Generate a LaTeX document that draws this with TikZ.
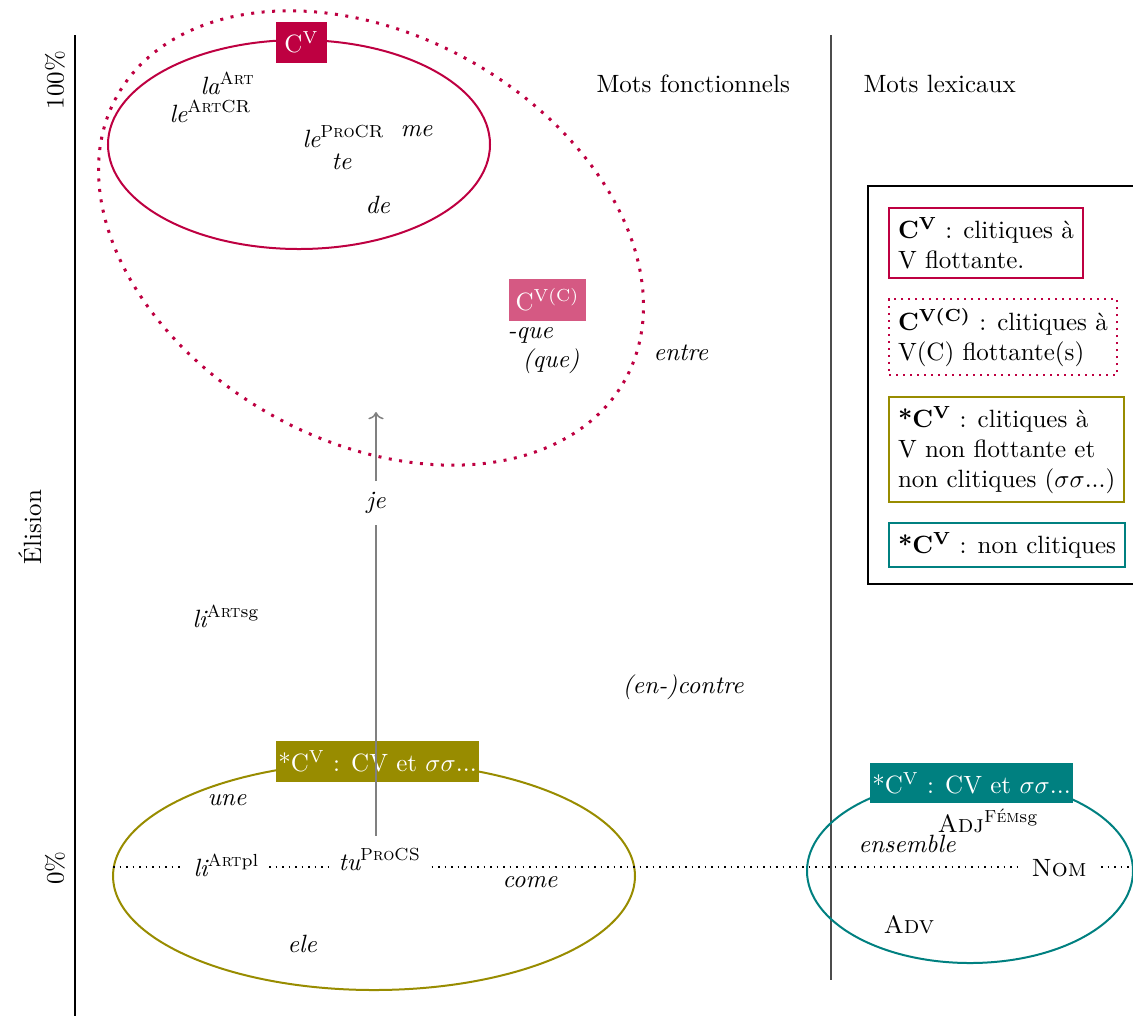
\documentclass[tikz,border=0pt]{standalone}
\usetikzlibrary{arrows.meta}
\definecolor{crim}{RGB}{190,0,65}
\definecolor{olv}{RGB}{152,140,0}
\definecolor{tl}{RGB}{0,128,128}
\newcommand\gls[1]{\textsuperscript{\normalfont #1}}
\begin{document}
\begin{tikzpicture}[x=0.4pt,y=-0.4pt,
  wd/.style={inner sep=0pt, anchor=base west, font=\itshape},
  rmw/.style={inner sep=0pt, anchor=base west},
  onl/.style={fill=white, inner xsep=4pt, inner ysep=1pt, anchor=base west},
  tag/.style={text=white, inner sep=0pt, minimum height=16.4pt},
  leg/.style={line width=0.8pt, align=left, anchor=north west, inner sep=3.6pt},
  ell/.style={line width=0.8pt},
]
\useasboundingbox (0,0) rectangle (1133,1016);

% axes
\draw[line width=1pt] (75,35) -- (75,1016);
\draw[black!70, line width=0.5pt] (831,35) -- (831,980);
\node[rotate=90] (p100) at (55,80) {100\%};
\node[rotate=90] (p0) at (55,868) {0\%};
\node[rotate=90] (elis) at (30,527) {\'Elision};

\node[rmw] (mf) at (596,92) {Mots fonctionnels};
\node[rmw] (ml) at (863,92) {Mots lexicaux};

% ellipses
\draw[crim, dash pattern=on 1.2pt off 3pt, line width=1.2pt]
  plot[domain=0:360, samples=145, smooth]
  ({371+291*cos(\x)*cos(29.3)-203*sin(\x)*sin(29.3)},
   {238+291*cos(\x)*sin(29.3)+203*sin(\x)*cos(29.3)});
\draw[crim, ell] (299,144.5) ellipse [x radius=76.4pt, y radius=41.8pt];
\draw[olv, ell] (374,876) ellipse [x radius=104.4pt, y radius=45.6pt];
\draw[tl, ell] (970,871) ellipse [x radius=65.2pt, y radius=36.8pt];

% dotted baseline
\coordinate (dl) at (113,867);
\coordinate (dr) at (1133,867);
\draw[dotted, line width=0.6pt] (dl) -- (dr);

% tags
\node[tag, fill=crim, minimum width=20.4pt] (tagC) at (301.5,42.5) {C\textsuperscript{V}};
\node[tag, fill=crim!65!white, minimum width=30.8pt, minimum height=16.8pt] (tagCC) at (547.5,300) {C\textsuperscript{V(C)}};
\node[tag, fill=olv, minimum width=81.2pt] (tagO) at (377.5,761.5) {*C\textsuperscript{V} : CV et $\sigma\sigma$...};
\node[tag, fill=tl, minimum width=81.2pt, minimum height=16pt] (tagT) at (971.5,783) {*C\textsuperscript{V} : CV et $\sigma\sigma$...};

% words, top
\node[wd] (la) at (200,94) {la\gls{\textsc{Art}}};
\node[wd] (leart) at (169,122) {le\gls{\textsc{Art}CR}};
\node[wd] (lepro) at (302,147) {le\gls{\textsc{Pro}CR}};
\node[wd] (me) at (400,136) {me};
\node[wd] (te) at (331,169) {te};
\node[wd] (de) at (365,213) {de};
\node[wd] (que) at (507,338) {-que};
\node[wd] (pque) at (522,367) {(que)};
\node[wd] (entre) at (653,360) {entre};

% middle
\node[font=\itshape, inner sep=4.3pt] (je) at (376,503) {je};
\node[wd] (lisg) at (192,627) {li\gls{\textsc{Art}sg}};
\node[wd] (encontre) at (622,693) {(en-)contre};

% bottom
\node[wd] (une) at (207,805) {une};
\node[onl, font=\itshape] (lipl) at (183,876) {li\gls{\textsc{Art}pl}};
\node[onl, font=\itshape] (tu) at (328,870) {tu\gls{\textsc{Pro}CS}};
\node[wd] (come) at (502,887) {come};
\node[wd] (ele) at (287,952) {ele};

\node[rmw] (adj) at (937,832) {\textsc{Adj}\gls{\textsc{F\'em}sg}};
\node[wd] (ensemble) at (858,852) {ensemble};
\node[onl] (nom) at (1021,876) {\textsc{Nom}};
\node[rmw] (adv) at (883,933) {\textsc{Adv}};

% arrow
\coordinate (atip) at (376,412);
\draw[gray, line width=0.6pt, shorten >=4pt] (je) -- (je |- tu.north);
\draw[gray, line width=0.6pt, ->] (je) -- (atip);

% legend
\draw[line width=0.8pt] (868,186) rectangle (1145,584);
\node[leg, draw=crim] (l1) at (888,207) {\textbf{C\textsuperscript{V}} : clitiques \`a\\V flottante.};
\node[leg, draw=crim, dash pattern=on 0.8pt off 2pt] (l2) at (888,298) {\textbf{C\textsuperscript{V(C)}} : clitiques \`a\\V(C) flottante(s)};
\node[leg, draw=olv] (l3) at (888,396) {\textbf{*C\textsuperscript{V}} : clitiques \`a\\V non flottante et\\non clitiques ($\sigma\sigma$...)};
\node[leg, draw=tl] (l4) at (888,522) {\textbf{*C\textsuperscript{V}} : non clitiques};
\end{tikzpicture}
\end{document}
